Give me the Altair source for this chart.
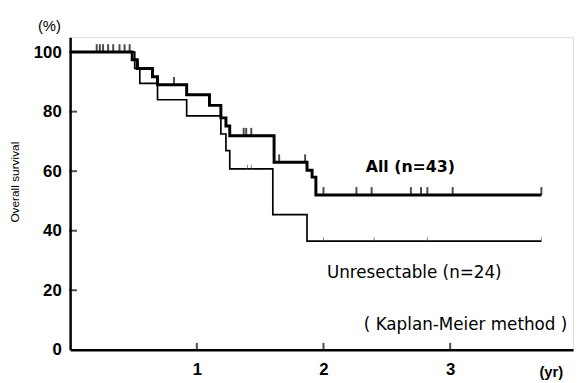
import altair as alt
import pandas as pd

# ---- data ----
all_t = [0, 0.49, 0.53, 0.65, 0.69, 0.92, 1.10, 1.19, 1.23, 1.26, 1.61, 1.87, 1.91, 1.94, 3.72]
all_s = [100, 97.4, 94.5, 91.7, 89.0, 85.7, 82.1, 77.9, 75.2, 71.9, 63.0, 60.3, 58.0, 52.0, 52.0]

unr_t = [0, 0.51, 0.55, 0.69, 0.92, 1.19, 1.23, 1.26, 1.60, 1.87, 3.72]
unr_s = [100, 94.5, 89.5, 84.0, 78.6, 72.5, 66.9, 60.8, 45.4, 36.5, 36.5]

all_cens = [0.21, 0.235, 0.26, 0.30, 0.34, 0.39, 0.43, 0.47, 0.535, 0.82,
            1.37, 1.39, 1.43, 1.65, 1.855, 2.0, 2.26, 2.38, 2.69, 2.77, 2.82, 3.02, 3.72]
unr_cens = [1.40, 1.43, 2.0, 2.40, 2.82, 3.72]

x_ticks = [1, 2, 3]
y_ticks = [0, 20, 40, 60, 80, 100]


def step_value(ts, ss, t):
    v = ss[0]
    for ti, si in zip(ts, ss):
        if ti <= t:
            v = si
    return v


all_df = pd.DataFrame({"t": all_t, "s": all_s})
unr_df = pd.DataFrame({"t": unr_t, "s": unr_s})
all_c_df = pd.DataFrame({"t": all_cens, "s": [step_value(all_t, all_s, t) for t in all_cens]})
unr_c_df = pd.DataFrame({"t": unr_cens, "s": [step_value(unr_t, unr_s, t) for t in unr_cens]})
xt_df = pd.DataFrame({"t": x_ticks, "s": [0] * len(x_ticks)})
yt_df = pd.DataFrame({"t": [0] * (len(y_ticks) - 1), "s": y_ticks[1:]})

XD = [0, 3.97]
YD = [0, 105]
W, H = 510, 317

x_enc = alt.X("t:Q", scale=alt.Scale(domain=XD, nice=False, zero=False),
              axis=alt.Axis(values=x_ticks, title=None, grid=False, tickSize=0,
                            domainColor="black", domainWidth=2.5, labelPadding=12,
                            labelFont="Liberation Sans", labelFontWeight="bold",
                            labelFontSize=17, labelColor="black", format="d"))
y_enc = alt.Y("s:Q", scale=alt.Scale(domain=YD, nice=False),
              axis=alt.Axis(values=y_ticks, title=None, grid=False, tickSize=0,
                            domainColor="black", domainWidth=2.5, labelPadding=9,
                            labelFont="Liberation Sans", labelFontWeight="bold",
                            labelFontSize=17, labelColor="black", format="d"))

all_line = alt.Chart(all_df).mark_line(interpolate="step-after", color="black",
                                       strokeWidth=3).encode(x=x_enc, y=y_enc)
unr_line = alt.Chart(unr_df).mark_line(interpolate="step-after", color="black",
                                       strokeWidth=1.7).encode(x="t:Q", y="s:Q")
all_c = alt.Chart(all_c_df).mark_tick(orient="vertical", size=8, thickness=2,
                                      color="black", yOffset=-4).encode(x="t:Q", y="s:Q")
unr_c = alt.Chart(unr_c_df).mark_tick(orient="vertical", size=4, thickness=1,
                                      color="#555555", yOffset=-2).encode(x="t:Q", y="s:Q")
x_tk = alt.Chart(xt_df).mark_tick(orient="vertical", size=8, thickness=2,
                                  color="black", yOffset=-3).encode(x="t:Q", y="s:Q")
y_tk = alt.Chart(yt_df).mark_tick(orient="horizontal", size=8, thickness=2,
                                  color="black", xOffset=3).encode(x="t:Q", y="s:Q")


def label(txt, x, y, size=17, weight="normal", font="DejaVu Sans", angle=0, align="center"):
    return alt.Chart(pd.DataFrame({"a": [0]})).mark_text(
        text=txt, font=font, fontSize=size, fontWeight=weight, color="black",
        angle=angle, align=align, baseline="middle"
    ).encode(x=alt.value(x), y=alt.value(y))


texts = [
    label("All (n=43)", 345, 132, size=16, weight="bold"),
    label("Unresectable (n=24)", 349, 239, size=17),
    label("( Kaplan-Meier method )", 401, 292, size=17),
    label("(%)", -21, -11, size=15, font="Liberation Sans"),
    label("(yr)", 488, 340, size=15, font="Liberation Sans", weight="bold"),
    label("Overall survival", -56, 147, size=12, font="Liberation Sans", angle=270),
]

chart = alt.layer(all_line, unr_line, all_c, unr_c, x_tk, y_tk, *texts).properties(
    width=W, height=H,
    autosize=alt.AutoSizeParams(type="none"),
    padding={"left": 63, "top": 27, "right": 3, "bottom": 28},
).configure_view(stroke=None).configure(background="white")

chart.save("out.html", embed_options={"renderer": "svg", "actions": False})
